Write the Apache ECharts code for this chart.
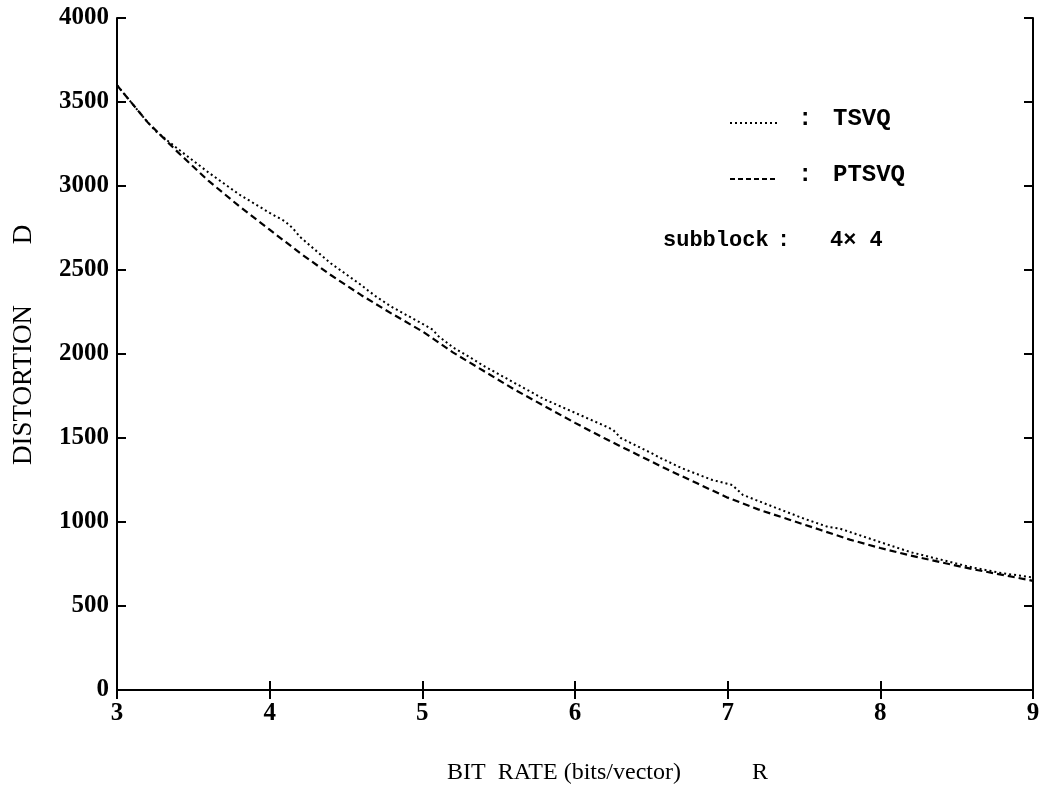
<!DOCTYPE html>
<html>
<head>
<meta charset="UTF-8">
<title>TSVQ / PTSVQ distortion</title>
<script src="https://cdn.jsdelivr.net/npm/echarts@6/dist/echarts.min.js"></script>
<style>
  html, body { margin: 0; padding: 0; background: #fff; }
  #chart { width: 1046px; height: 790px; }
</style>
</head>
<body>
<div id="chart"></div>
<script>
// bit rate R (bits/vector) and distortion D
var tsvqR = [3.0, 3.2, 3.26, 3.4, 3.6, 3.8, 4.0, 4.1, 4.15, 4.2, 4.4, 4.6, 4.64, 4.7, 4.8, 5.0, 5.07, 5.1, 5.2, 5.32, 5.4, 5.6, 5.8, 6.0, 6.2, 6.25, 6.3, 6.5, 6.56, 6.7, 6.9, 7.03, 7.1, 7.3, 7.5, 7.66, 7.73, 8.0, 8.2, 8.4, 8.6, 8.8, 9.0];
var tsvqD = [3600, 3380, 3321, 3220, 3080, 2950, 2840, 2790, 2750, 2696, 2540, 2410, 2381, 2340, 2280, 2180, 2143, 2110, 2040, 1976, 1930, 1830, 1730, 1650, 1570, 1548, 1500, 1410, 1381, 1320, 1250, 1220, 1161, 1090, 1020, 970, 962, 880, 820, 775, 730, 695, 670];

var ptsvqR = [3.0, 3.2, 3.4, 3.6, 3.8, 4.0, 4.2, 4.4, 4.6, 4.8, 5.0, 5.2, 5.4, 5.6, 5.8, 6.0, 6.2, 6.4, 6.6, 6.8, 7.0, 7.2, 7.4, 7.6, 7.8, 8.0, 8.2, 8.4, 8.6, 8.8, 9.0];
var ptsvqD = [3600, 3380, 3200, 3030, 2880, 2740, 2600, 2470, 2350, 2240, 2135, 2010, 1900, 1790, 1690, 1590, 1495, 1405, 1315, 1230, 1145, 1075, 1015, 955, 895, 845, 800, 760, 720, 685, 650];

var xTicks = [3, 4, 5, 6, 7, 8, 9];
var yTicks = [0, 500, 1000, 1500, 2000, 2500, 3000, 3500, 4000];

function pairs(xs, ys) {
  var out = [];
  for (var i = 0; i < xs.length; i++) out.push([xs[i], ys[i]]);
  return out;
}

var serif = '"Liberation Serif", "DejaVu Serif", serif';
var mono = '"Liberation Mono", "DejaVu Sans Mono", monospace';

var boxLine = { show: true, lineStyle: { color: '#000', width: 2 } };
var inTick = { show: true, inside: true, length: 9, lineStyle: { color: '#000', width: 2 } };

var myChart = echarts.init(document.getElementById('chart'));

var option = {
  backgroundColor: '#fff',
  animation: false,
  grid: { left: 117, right: 13, top: 18, bottom: 100 },
  xAxis: [{
    type: 'value',
    min: xTicks[0], max: xTicks[xTicks.length - 1], interval: 1,
    axisLine: boxLine, axisTick: inTick,
    splitLine: { show: false },
    axisLabel: { color: '#000', fontFamily: serif, fontWeight: 'bold', fontSize: 25, margin: 11 }
  }, {
    type: 'value', position: 'top',
    min: xTicks[0], max: xTicks[xTicks.length - 1], interval: 1,
    axisLine: boxLine, axisTick: inTick,
    splitLine: { show: false }, axisLabel: { show: false }
  }],
  yAxis: [{
    type: 'value',
    min: yTicks[0], max: yTicks[yTicks.length - 1], interval: 500,
    axisLine: boxLine, axisTick: inTick,
    splitLine: { show: false },
    axisLabel: {
      color: '#000', fontFamily: serif, fontWeight: 'bold', fontSize: 25, margin: 8,
      formatter: function (v) { return String(v); }
    }
  }, {
    type: 'value', position: 'right',
    min: yTicks[0], max: yTicks[yTicks.length - 1], interval: 500,
    axisLine: boxLine, axisTick: inTick,
    splitLine: { show: false }, axisLabel: { show: false }
  }],
  series: [{
    name: 'TSVQ',
    type: 'line',
    data: pairs(tsvqR, tsvqD),
    showSymbol: false,
    lineStyle: { color: '#000', width: 2, type: [2, 3] }
  }, {
    name: 'PTSVQ',
    type: 'line',
    data: pairs(ptsvqR, ptsvqD),
    showSymbol: false,
    lineStyle: { color: '#000', width: 2.2, type: [7, 4] }
  }],
  graphic: [
    // key
    { type: 'line', shape: { x1: 730, y1: 123, x2: 777, y2: 123 },
      style: { stroke: '#000', lineWidth: 2, lineDash: [2, 3] } },
    { type: 'text', left: 798, top: 107,
      style: { text: ':', font: 'bold 24px ' + mono, fill: '#000' } },
    { type: 'text', left: 833, top: 107,
      style: { text: 'TSVQ', font: 'bold 24px ' + mono, fill: '#000' } },
    { type: 'line', shape: { x1: 730, y1: 179, x2: 777, y2: 179 },
      style: { stroke: '#000', lineWidth: 2, lineDash: [5, 3] } },
    { type: 'text', left: 798, top: 163,
      style: { text: ':', font: 'bold 24px ' + mono, fill: '#000' } },
    { type: 'text', left: 833, top: 163,
      style: { text: 'PTSVQ', font: 'bold 24px ' + mono, fill: '#000' } },
    { type: 'text', left: 663, top: 229,
      style: { text: 'subblock', font: 'bold 22px ' + mono, fill: '#000' } },
    { type: 'text', left: 777, top: 229,
      style: { text: ':', font: 'bold 22px ' + mono, fill: '#000' } },
    { type: 'text', left: 830, top: 229,
      style: { text: '4× 4', font: 'bold 22px ' + mono, fill: '#000' } },
    // axis titles
    { type: 'text', left: 447, top: 761,
      style: { text: 'BIT  RATE (bits/vector)', font: '24px ' + serif, fill: '#000' } },
    { type: 'text', left: 752, top: 761,
      style: { text: 'R', font: '24px ' + serif, fill: '#000' } },
    { type: 'text', x: 10, y: 465, rotation: Math.PI / 2,
      style: { text: 'DISTORTION         D', font: '27px ' + serif, fill: '#000' } }
  ]
};
myChart.setOption(option);
</script>
</body>
</html>
